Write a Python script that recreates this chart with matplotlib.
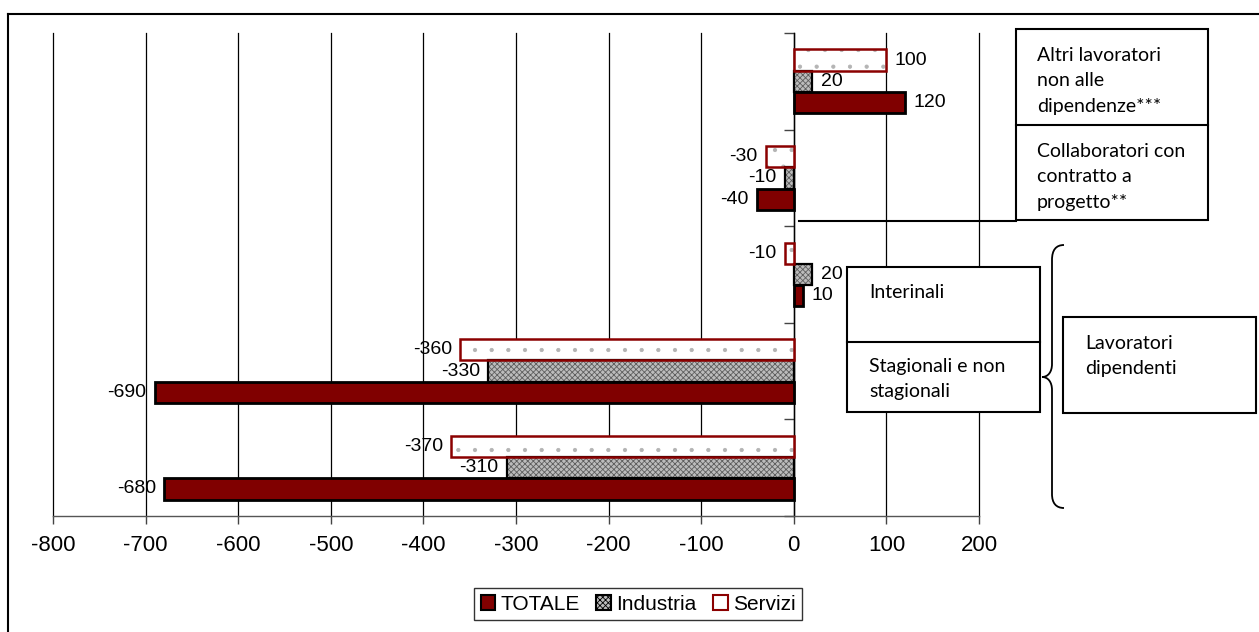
import matplotlib
matplotlib.use("Agg")
import matplotlib.pyplot as plt
import matplotlib.transforms as mtransforms
from matplotlib.patches import Rectangle, PathPatch, Patch
from matplotlib.path import Path
from matplotlib.lines import Line2D
import numpy as np

plt.rcParams["font.family"] = ["Liberation Sans", "DejaVu Sans"]
plt.rcParams["hatch.linewidth"] = 0.6

# Rows from top to bottom
categories = ["Altri", "Collaboratori", "Interinali", "Stagionali", "Dipendenti"]
totale = [120, -40, 10, -690, -680]
industria = [20, -10, 20, -330, -310]
servizi = [100, -30, -10, -360, -370]
series_names = ["TOTALE", "Industria", "Servizi"]
x_ticks = list(range(-800, 201, 100))

W, H = 1259, 632
fig = plt.figure(figsize=(W / 100, H / 100), dpi=100)
fig.patch.set_facecolor("white")
ax = fig.add_axes([53 / W, 1 - 516 / H, (979 - 53) / W, (516 - 33) / H])

y = np.arange(len(categories))
h = 0.22

DARK_RED = "#800000"
SERV_EDGE = "#8b0000"

# TOTALE
ax.barh(y + h, totale, height=h, color=DARK_RED, edgecolor="black",
        linewidth=2, zorder=3)
# Industria: fine grey texture, then black outline
ax.barh(y, industria, height=h, facecolor="#bcbcbc", edgecolor="#5e5e5e",
        hatch="xxxxxx", linewidth=0, zorder=3)
ax.barh(y, industria, height=h, fill=False, edgecolor="black",
        linewidth=1.6, zorder=4)
# Servizi: sparse grey dots, then dark red outline
ax.barh(y - h, servizi, height=h, facecolor="white", edgecolor="#b4b4b4",
        hatch=".", linewidth=0, zorder=3)
ax.barh(y - h, servizi, height=h, fill=False, edgecolor=SERV_EDGE,
        linewidth=1.8, zorder=4)

# value labels
for offs, vals in ((h, totale), (0, industria), (-h, servizi)):
    for yi, v in zip(y, vals):
        ax.annotate(f"{v}", xy=(v, yi + offs),
                    xytext=(6 if v >= 0 else -6, 0), textcoords="offset points",
                    ha="left" if v >= 0 else "right", va="center",
                    fontsize=14, zorder=5)

ax.set_xlim(-800, 200)
ax.set_ylim(len(categories) - 0.5, -0.5)
ax.set_xticks(x_ticks)
ax.set_xticklabels([str(t) for t in x_ticks])
ax.set_yticks(np.arange(-0.5, len(categories), 1.0))
ax.set_yticklabels([])
ax.grid(axis="x", color="black", linewidth=0.9)
ax.set_axisbelow(True)
for gl in ax.get_xgridlines():
    gl.set_clip_on(False)

for s in ("top", "right"):
    ax.spines[s].set_visible(False)
ax.spines["left"].set_position(("data", 0))
ax.spines["left"].set_color("black")
ax.spines["left"].set_linewidth(1.0)
ax.spines["left"].set_zorder(2)
ax.spines["bottom"].set_color("#555555")
ax.spines["bottom"].set_linewidth(1.0)
ax.tick_params(axis="x", direction="out", length=6, width=1, color="#444444",
               labelsize=16, pad=8)
ax.tick_params(axis="y", direction="out", length=7, width=1, color="#444444")

# legend
handles = [
    Patch(facecolor=DARK_RED, edgecolor="black", linewidth=1.5),
    Patch(facecolor="#bcbcbc", edgecolor="black", hatch="xxxxxx", linewidth=1.5),
    Patch(facecolor="white", edgecolor=SERV_EDGE, linewidth=1.5),
]
leg = fig.legend(handles, series_names, loc="center",
                 bbox_to_anchor=(638 / W, 1 - 604 / H), ncol=3,
                 frameon=True, fancybox=False, edgecolor="black",
                 handlelength=0.7, handleheight=0.7, handletextpad=0.25,
                 columnspacing=0.8, borderpad=0.3, fontsize=15)
leg.get_frame().set_linewidth(1.0)

# overlay drawn in pixel units measured from the top-left corner
pix = mtransforms.Affine2D().scale(1 / W, -1 / H).translate(0, 1) + fig.transFigure


def box(x0, y0, x1, y1):
    fig.add_artist(Rectangle((x0, y0), x1 - x0, y1 - y0, transform=pix,
                             facecolor="white", edgecolor="black",
                             linewidth=1.5, zorder=5))


def hline(x0, x1, yy, lw=1.5, color="black"):
    fig.add_artist(Line2D([x0, x1], [yy, yy], transform=pix, color=color,
                          linewidth=lw, zorder=6))


def vline(xx, y0, y1, lw=1.5, color="black"):
    fig.add_artist(Line2D([xx, xx], [y0, y1], transform=pix, color=color,
                          linewidth=lw, zorder=6))


def label(txt, x0, yb):
    fig.text(x0, yb, txt, transform=pix, family=["Lato", "DejaVu Sans"],
             fontsize=14, ha="left", va="baseline", zorder=7)


# outer frame
hline(8, W, 14)
vline(8, 14, H)

# upper-right boxes
box(1016, 29, 1208, 220)
hline(1016, 1208, 125)
hline(799, 1016, 221)
label("Altri lavoratori", 1037, 61)
label("non alle", 1037, 86.5)
label("dipendenze***", 1037, 112)
label("Collaboratori con", 1037, 157)
label("contratto a", 1037, 182.5)
label("progetto**", 1037, 208)

# employee boxes
box(847, 267, 1040, 412)
hline(847, 1040, 342)
label("Interinali", 869, 298)
label("Stagionali e non", 869, 372)
label("stagionali", 869, 397)

box(1063, 317, 1256, 413)
label("Lavoratori", 1085, 349)
label("dipendenti", 1085, 374)

# curly brace pointing left
verts = [
    (1064, 245), (1056, 245), (1052, 250), (1052, 260),
    (1052, 364),
    (1052, 372), (1048, 377), (1042, 377),
    (1048, 377), (1052, 382), (1052, 390),
    (1052, 494),
    (1052, 503), (1056, 508), (1064, 508),
]
codes = [Path.MOVETO, Path.CURVE4, Path.CURVE4, Path.CURVE4,
         Path.LINETO,
         Path.CURVE4, Path.CURVE4, Path.CURVE4,
         Path.CURVE4, Path.CURVE4, Path.CURVE4,
         Path.LINETO,
         Path.CURVE4, Path.CURVE4, Path.CURVE4]
fig.add_artist(PathPatch(Path(verts, codes), transform=pix, fill=False,
                         edgecolor="black", linewidth=1.3, zorder=6))

fig.savefig("out.png", dpi=100)
